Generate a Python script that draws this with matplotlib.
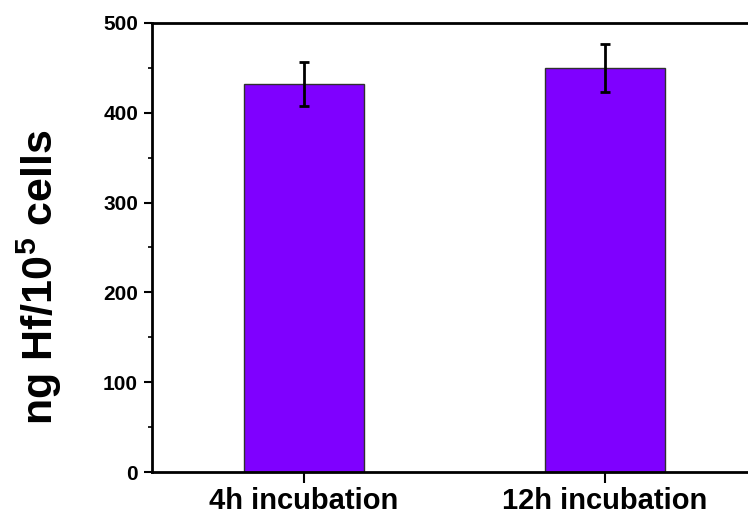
import numpy as np
import matplotlib
matplotlib.use("Agg")
import matplotlib.pyplot as plt
from matplotlib.ticker import MultipleLocator

plt.rcParams['font.family'] = ['Liberation Sans', 'DejaVu Sans']
plt.rcParams['font.weight'] = 'bold'
plt.rcParams['mathtext.fontset'] = 'custom'
plt.rcParams['mathtext.rm'] = 'Liberation Sans:bold'
plt.rcParams['mathtext.bf'] = 'Liberation Sans:bold'

# data
categories = ['4h incubation', '12h incubation']
values = [432, 450]
errors = [24, 27]

fig = plt.figure(figsize=(7.48, 5.14), dpi=100)
ax = fig.add_axes([0.2032, 0.0817, 0.809, 0.8736])

x = np.arange(len(categories))
ax.bar(x, values, width=0.40, color='#7f00ff', edgecolor='#303030', linewidth=1)
ax.errorbar(x, values, yerr=errors, fmt='none', ecolor='black', elinewidth=2,
            capsize=3.8, capthick=2)

ax.set_xlim(-0.505, 1.505)
ax.set_ylim(0, 500)
ax.set_xticks(x)
ax.set_xticklabels(categories, fontsize=21, fontweight='bold')
ax.yaxis.set_major_locator(MultipleLocator(100))
ax.yaxis.set_minor_locator(MultipleLocator(50))
ax.tick_params(axis='y', which='major', direction='out', length=6, width=1.5,
               labelsize=15, pad=4)
ax.tick_params(axis='y', which='minor', direction='out', length=3, width=1.2)
ax.tick_params(axis='x', direction='out', length=8, width=1.5, pad=3)
for t in ax.get_yticklabels():
    t.set_fontweight('bold')

for s in ['top', 'left', 'bottom', 'right']:
    ax.spines[s].set_linewidth(2)

ax.set_ylabel('ng Hf/10$^{5}$ cells', fontsize=31, fontweight='bold')
ax.yaxis.set_label_coords(-0.146, 0.435)

fig.savefig('out.png', dpi=100)
